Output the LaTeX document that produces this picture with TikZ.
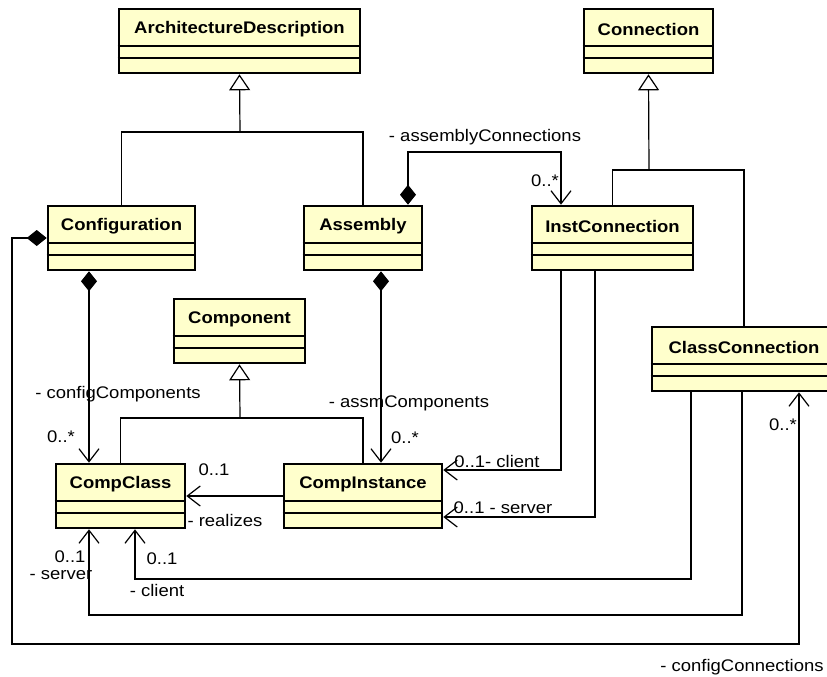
\documentclass[tikz,border=0pt]{standalone}
\usepackage{fontspec}
\setmainfont{Liberation Sans}[FakeStretch=1.1]
\usetikzlibrary{arrows.meta}
\definecolor{classfill}{RGB}{255,255,204}

% UML class: name, centre x, centre y, width, title
\newcommand\umlclass[5]{%
  \node[classbox, minimum width=#4pt] (#1) at (#2,#3) {};
  \draw[divider] ([yshift=-5pt]#1.west) -- ([yshift=-5pt]#1.east);
  \draw[divider] ([yshift=-17pt]#1.west) -- ([yshift=-17pt]#1.east);
  \node[clsname] at ([yshift=12pt]#1.center) {#5};
}

\begin{document}
\begin{tikzpicture}[x=1pt,y=-1pt,
  classbox/.style={draw, line width=2.6pt, fill=classfill, inner sep=0pt, minimum height=64pt},
  divider/.style={line width=1.1pt},
  clsname/.style={font=\fontsize{16.8}{18}\selectfont\bfseries, inner sep=0pt},
  lbl/.style={font=\fontsize{16.8}{18}\selectfont, inner sep=0pt},
  assoc/.style={line width=1.2pt},
  nav/.style={assoc, -{Straight Barb[length=13pt,width=20pt]}},
  compo/.style={assoc, {Diamond[length=20pt,width=16pt]}-{Straight Barb[length=13pt,width=20pt]}},
  gen/.style={assoc, -{Triangle[open,length=16pt,width=21pt,fill=white]}},
]
\useasboundingbox (0,0) rectangle (827,677);

% classes
\umlclass{arch}{239.5}{41}{241}{ArchitectureDescription}
\umlclass{conn}{648.5}{41}{129}{Connection}
\umlclass{cfg}{121.5}{238}{147}{Configuration}
\umlclass{asm}{363}{238}{118}{Assembly}
\umlclass{inst}{612.5}{238}{161}{InstConnection}
\umlclass{cc}{744}{359}{184}{ClassConnection}
\umlclass{comp}{239.5}{331}{131}{Component}
\umlclass{cclass}{120.5}{496}{129}{CompClass}
\umlclass{cinst}{363}{496}{158}{CompInstance}

% generalisations
\coordinate (g1) at (240,132);
\draw[assoc] (cfg.north) |- (g1) -| (asm.north);
\draw[gen] (g1) -- (arch.south);
\coordinate (g2) at (649,170);
\draw[assoc] (inst.north) |- (g2) -| (cc.north);
\draw[gen] (g2) -- (conn.south);
\coordinate (g3) at (240,418);
\draw[assoc] (cclass.north) |- (g3) -| (cinst.north);
\draw[gen] (g3) -- (comp.south);

% compositions
\draw[compo] (cfg.south -| 89,0) -- (cclass.north -| 89,0);
\draw[compo] (cfg.west) -| (12,644) -| (cc.south -| 799,0);
\coordinate (a1) at (561,152);
\draw[compo] (asm.north -| 408,0) |- (a1) -- (inst.north -| a1);
\draw[compo] (asm.south -| 381,0) -- (cinst.north -| 381,0);

% navigable associations
\draw[nav] (cinst.west) -- (cclass.east);
\draw[nav] (inst.south -| 561,0) |- (cinst.east |- 0,470);
\draw[nav] (inst.south -| 595,0) |- (cinst.east |- 0,517);
\draw[nav] (cc.south -| 691,0) |- (135,579) -- (cclass.south -| 135,0);
\draw[nav] (cc.south -| 742,0) |- (89,615) -- (cclass.south -| 89,0);

% role names and multiplicities
\node[lbl] (l1) at (118,394) {- configComponents};
\node[lbl] (l2) at (61,437) {0..*};
\node[lbl] (l3) at (485,137) {- assemblyConnections};
\node[lbl] (l4) at (545,181) {0..*};
\node[lbl] (l5) at (409,403) {- assmComponents};
\node[lbl] (l6) at (405,438) {0..*};
\node[lbl] (l7) at (214,470) {0..1};
\node[lbl] (l8) at (225,520) {- realizes};
\node[lbl] (l9) at (497,461) {0..1- client};
\node[lbl] (l10) at (503,508) {0..1 - server};
\node[lbl] (l11) at (162,559) {0..1};
\node[lbl] (l12) at (157,590) {- client};
\node[lbl] (l13) at (70,557) {0..1};
\node[lbl] (l14) at (61,575) {- server};
\node[lbl] (l15) at (783,425) {0..*};
\node[lbl] (l16) at (742,667) {- configConnections};
\end{tikzpicture}
\end{document}
